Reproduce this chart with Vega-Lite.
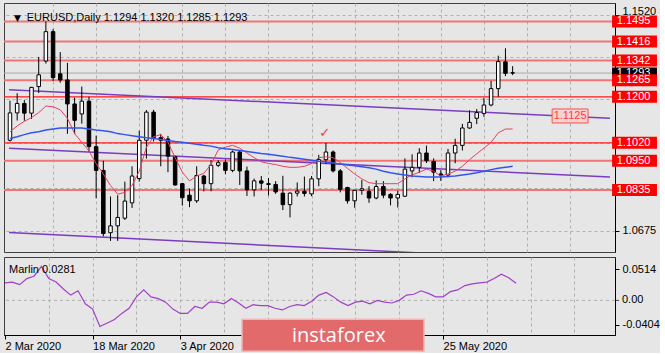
{
  "$schema": "https://vega.github.io/schema/vega-lite/v6.json",
  "background": "#e6e6e6",
  "padding": {"left": 2, "top": 2, "right": 0, "bottom": 0},
  "config": {
    "font": "Liberation Sans",
    "view": {"stroke": "#404040", "strokeWidth": 1},
    "axis": {"labelFont": "Liberation Sans", "labelFontSize": 11, "labelColor": "#000", "title": null, "labelOverlap": false}
  },
  "datasets": {
    "bars": [
      {"date":"2020-03-02","i":0,"o":1.1030,"h":1.1185,"l":1.1025,"c":1.1137,"ma_fast":1.1063,"ma_slow":1.1037,"marlin":0.0286},
      {"date":"2020-03-03","i":1,"o":1.1137,"h":1.1214,"l":1.1107,"c":1.1174,"ma_fast":1.1086,"ma_slow":1.1044,"marlin":0.0300},
      {"date":"2020-03-04","i":2,"o":1.1174,"h":1.1187,"l":1.1106,"c":1.1136,"ma_fast":1.1104,"ma_slow":1.1052,"marlin":0.0257},
      {"date":"2020-03-05","i":3,"o":1.1136,"h":1.1239,"l":1.1114,"c":1.1237,"ma_fast":1.1119,"ma_slow":1.1059,"marlin":0.0357},
      {"date":"2020-03-06","i":4,"o":1.1240,"h":1.1356,"l":1.1215,"c":1.1286,"ma_fast":1.1138,"ma_slow":1.1063,"marlin":0.0400},
      {"date":"2020-03-09","i":5,"o":1.1340,"h":1.1495,"l":1.1330,"c":1.1455,"ma_fast":1.1164,"ma_slow":1.1070,"marlin":0.0557},
      {"date":"2020-03-10","i":6,"o":1.1455,"h":1.1465,"l":1.1262,"c":1.1275,"ma_fast":1.1161,"ma_slow":1.1074,"marlin":0.0357},
      {"date":"2020-03-11","i":7,"o":1.1290,"h":1.1375,"l":1.1255,"c":1.1266,"ma_fast":1.1149,"ma_slow":1.1078,"marlin":0.0300},
      {"date":"2020-03-12","i":8,"o":1.1266,"h":1.1333,"l":1.1055,"c":1.1172,"ma_fast":1.1116,"ma_slow":1.1078,"marlin":0.0186},
      {"date":"2020-03-13","i":9,"o":1.1172,"h":1.1197,"l":1.1054,"c":1.1108,"ma_fast":1.1056,"ma_slow":1.1078,"marlin":0.0086},
      {"date":"2020-03-16","i":10,"o":1.1133,"h":1.1240,"l":1.1095,"c":1.1183,"ma_fast":1.1022,"ma_slow":1.1078,"marlin":0.0157},
      {"date":"2020-03-17","i":11,"o":1.1183,"h":1.1200,"l":1.0985,"c":1.1005,"ma_fast":1.0988,"ma_slow":1.1074,"marlin":-0.0057},
      {"date":"2020-03-18","i":12,"o":1.1005,"h":1.1048,"l":1.0803,"c":1.0912,"ma_fast":1.0939,"ma_slow":1.1070,"marlin":-0.0143},
      {"date":"2020-03-19","i":13,"o":1.0912,"h":1.0950,"l":1.0654,"c":1.0665,"ma_fast":1.0898,"ma_slow":1.1067,"marlin":-0.0429},
      {"date":"2020-03-20","i":14,"o":1.0668,"h":1.0810,"l":1.0636,"c":1.0695,"ma_fast":1.0853,"ma_slow":1.1063,"marlin":-0.0371},
      {"date":"2020-03-23","i":15,"o":1.0695,"h":1.0815,"l":1.0636,"c":1.0728,"ma_fast":1.0819,"ma_slow":1.1056,"marlin":-0.0314},
      {"date":"2020-03-24","i":16,"o":1.0725,"h":1.0868,"l":1.0718,"c":1.0792,"ma_fast":1.0826,"ma_slow":1.1052,"marlin":-0.0214},
      {"date":"2020-03-25","i":17,"o":1.0785,"h":1.0928,"l":1.0765,"c":1.0890,"ma_fast":1.0853,"ma_slow":1.1048,"marlin":-0.0129},
      {"date":"2020-03-26","i":18,"o":1.0880,"h":1.1067,"l":1.0868,"c":1.1030,"ma_fast":1.0909,"ma_slow":1.1044,"marlin":0.0057},
      {"date":"2020-03-27","i":19,"o":1.1030,"h":1.1148,"l":1.0958,"c":1.1140,"ma_fast":1.1003,"ma_slow":1.1040,"marlin":0.0171},
      {"date":"2020-03-30","i":20,"o":1.1140,"h":1.1149,"l":1.1025,"c":1.1040,"ma_fast":1.1044,"ma_slow":1.1037,"marlin":0.0057},
      {"date":"2020-03-31","i":21,"o":1.1040,"h":1.1055,"l":1.0928,"c":1.1030,"ma_fast":1.1052,"ma_slow":1.1033,"marlin":0.0029},
      {"date":"2020-04-01","i":22,"o":1.1035,"h":1.1047,"l":1.0905,"c":1.0968,"ma_fast":1.1022,"ma_slow":1.1029,"marlin":-0.0029},
      {"date":"2020-04-02","i":23,"o":1.0965,"h":1.0970,"l":1.0852,"c":1.0855,"ma_fast":1.0962,"ma_slow":1.1025,"marlin":-0.0143},
      {"date":"2020-04-03","i":24,"o":1.0860,"h":1.0863,"l":1.0774,"c":1.0805,"ma_fast":1.0905,"ma_slow":1.1022,"marlin":-0.0214},
      {"date":"2020-04-06","i":25,"o":1.0815,"h":1.0841,"l":1.0768,"c":1.0793,"ma_fast":1.0871,"ma_slow":1.1018,"marlin":-0.0214},
      {"date":"2020-04-07","i":26,"o":1.0793,"h":1.0928,"l":1.0785,"c":1.0892,"ma_fast":1.0890,"ma_slow":1.1014,"marlin":-0.0100},
      {"date":"2020-04-08","i":27,"o":1.0890,"h":1.0895,"l":1.0830,"c":1.0860,"ma_fast":1.0901,"ma_slow":1.1010,"marlin":-0.0129},
      {"date":"2020-04-09","i":28,"o":1.0860,"h":1.0952,"l":1.0830,"c":1.0932,"ma_fast":1.0935,"ma_slow":1.1007,"marlin":-0.0029},
      {"date":"2020-04-10","i":29,"o":1.0932,"h":1.0952,"l":1.0925,"c":1.0942,"ma_fast":1.0992,"ma_slow":1.1001,"marlin":-0.0029},
      {"date":"2020-04-13","i":30,"o":1.0943,"h":1.0955,"l":1.0897,"c":1.0912,"ma_fast":1.1003,"ma_slow":1.0997,"marlin":-0.0057},
      {"date":"2020-04-14","i":31,"o":1.0912,"h":1.0990,"l":1.0905,"c":1.0984,"ma_fast":1.1010,"ma_slow":1.0994,"marlin":0.0029},
      {"date":"2020-04-15","i":32,"o":1.0984,"h":1.0990,"l":1.0855,"c":1.0910,"ma_fast":1.0999,"ma_slow":1.0990,"marlin":-0.0043},
      {"date":"2020-04-16","i":33,"o":1.0910,"h":1.0927,"l":1.0812,"c":1.0836,"ma_fast":1.0980,"ma_slow":1.0986,"marlin":-0.0129},
      {"date":"2020-04-17","i":34,"o":1.0836,"h":1.0880,"l":1.0810,"c":1.0871,"ma_fast":1.0962,"ma_slow":1.0982,"marlin":-0.0071},
      {"date":"2020-04-20","i":35,"o":1.0871,"h":1.0890,"l":1.0835,"c":1.0862,"ma_fast":1.0946,"ma_slow":1.0978,"marlin":-0.0086},
      {"date":"2020-04-21","i":36,"o":1.0860,"h":1.0882,"l":1.0814,"c":1.0857,"ma_fast":1.0939,"ma_slow":1.0975,"marlin":-0.0086},
      {"date":"2020-04-22","i":37,"o":1.0857,"h":1.0870,"l":1.0820,"c":1.0828,"ma_fast":1.0935,"ma_slow":1.0971,"marlin":-0.0129},
      {"date":"2020-04-23","i":38,"o":1.0823,"h":1.0891,"l":1.0757,"c":1.0778,"ma_fast":1.0928,"ma_slow":1.0967,"marlin":-0.0157},
      {"date":"2020-04-24","i":39,"o":1.0778,"h":1.0826,"l":1.0728,"c":1.0823,"ma_fast":1.0924,"ma_slow":1.0963,"marlin":-0.0100},
      {"date":"2020-04-27","i":40,"o":1.0823,"h":1.0865,"l":1.0810,"c":1.0831,"ma_fast":1.0924,"ma_slow":1.0960,"marlin":-0.0071},
      {"date":"2020-04-28","i":41,"o":1.0830,"h":1.0888,"l":1.0810,"c":1.0822,"ma_fast":1.0928,"ma_slow":1.0956,"marlin":-0.0086},
      {"date":"2020-04-29","i":42,"o":1.0820,"h":1.0890,"l":1.0811,"c":1.0879,"ma_fast":1.0939,"ma_slow":1.0952,"marlin":-0.0014},
      {"date":"2020-04-30","i":43,"o":1.0879,"h":1.0973,"l":1.0850,"c":1.0954,"ma_fast":1.0962,"ma_slow":1.0948,"marlin":0.0086},
      {"date":"2020-05-01","i":44,"o":1.0954,"h":1.1019,"l":1.0937,"c":1.0984,"ma_fast":1.0965,"ma_slow":1.0945,"marlin":0.0129},
      {"date":"2020-05-04","i":45,"o":1.0984,"h":1.0990,"l":1.0904,"c":1.0910,"ma_fast":1.0962,"ma_slow":1.0941,"marlin":0.0057},
      {"date":"2020-05-05","i":46,"o":1.0910,"h":1.0917,"l":1.0826,"c":1.0838,"ma_fast":1.0943,"ma_slow":1.0937,"marlin":-0.0029},
      {"date":"2020-05-06","i":47,"o":1.0845,"h":1.0848,"l":1.0782,"c":1.0793,"ma_fast":1.0920,"ma_slow":1.0933,"marlin":-0.0086},
      {"date":"2020-05-07","i":48,"o":1.0793,"h":1.0835,"l":1.0766,"c":1.0834,"ma_fast":1.0898,"ma_slow":1.0930,"marlin":-0.0029},
      {"date":"2020-05-08","i":49,"o":1.0834,"h":1.0875,"l":1.0817,"c":1.0840,"ma_fast":1.0879,"ma_slow":1.0926,"marlin":-0.0014},
      {"date":"2020-05-11","i":50,"o":1.0830,"h":1.0850,"l":1.0785,"c":1.0804,"ma_fast":1.0864,"ma_slow":1.0922,"marlin":-0.0057},
      {"date":"2020-05-12","i":51,"o":1.0804,"h":1.0873,"l":1.0799,"c":1.0849,"ma_fast":1.0860,"ma_slow":1.0917,"marlin":0.0000},
      {"date":"2020-05-13","i":52,"o":1.0849,"h":1.0870,"l":1.0803,"c":1.0815,"ma_fast":1.0860,"ma_slow":1.0909,"marlin":-0.0029},
      {"date":"2020-05-14","i":53,"o":1.0818,"h":1.0823,"l":1.0775,"c":1.0804,"ma_fast":1.0860,"ma_slow":1.0903,"marlin":-0.0043},
      {"date":"2020-05-15","i":54,"o":1.0804,"h":1.0832,"l":1.0767,"c":1.0818,"ma_fast":1.0860,"ma_slow":1.0898,"marlin":0.0000},
      {"date":"2020-05-18","i":55,"o":1.0811,"h":1.0959,"l":1.0808,"c":1.0917,"ma_fast":1.0879,"ma_slow":1.0894,"marlin":0.0086},
      {"date":"2020-05-19","i":56,"o":1.0910,"h":1.0975,"l":1.0885,"c":1.0924,"ma_fast":1.0894,"ma_slow":1.0890,"marlin":0.0100},
      {"date":"2020-05-20","i":57,"o":1.0924,"h":1.0999,"l":1.0903,"c":1.0980,"ma_fast":1.0905,"ma_slow":1.0888,"marlin":0.0157},
      {"date":"2020-05-21","i":58,"o":1.0980,"h":1.1009,"l":1.0941,"c":1.0950,"ma_fast":1.0917,"ma_slow":1.0886,"marlin":0.0114},
      {"date":"2020-05-22","i":59,"o":1.0947,"h":1.0959,"l":1.0870,"c":1.0905,"ma_fast":1.0909,"ma_slow":1.0886,"marlin":0.0057},
      {"date":"2020-05-25","i":60,"o":1.0898,"h":1.0913,"l":1.0871,"c":1.0893,"ma_fast":1.0890,"ma_slow":1.0886,"marlin":0.0057},
      {"date":"2020-05-26","i":61,"o":1.0894,"h":1.0996,"l":1.0885,"c":1.0980,"ma_fast":1.0898,"ma_slow":1.0888,"marlin":0.0143},
      {"date":"2020-05-27","i":62,"o":1.0980,"h":1.1036,"l":1.0940,"c":1.1010,"ma_fast":1.0909,"ma_slow":1.0890,"marlin":0.0171},
      {"date":"2020-05-28","i":63,"o":1.1010,"h":1.1094,"l":1.0990,"c":1.1078,"ma_fast":1.0928,"ma_slow":1.0894,"marlin":0.0243},
      {"date":"2020-05-29","i":64,"o":1.1078,"h":1.1147,"l":1.1075,"c":1.1100,"ma_fast":1.0954,"ma_slow":1.0898,"marlin":0.0271},
      {"date":"2020-06-01","i":65,"o":1.1116,"h":1.1152,"l":1.1093,"c":1.1138,"ma_fast":1.0977,"ma_slow":1.0903,"marlin":0.0286},
      {"date":"2020-06-02","i":66,"o":1.1135,"h":1.1196,"l":1.1122,"c":1.1168,"ma_fast":1.0999,"ma_slow":1.0909,"marlin":0.0300},
      {"date":"2020-06-03","i":67,"o":1.1168,"h":1.1262,"l":1.1163,"c":1.1232,"ma_fast":1.1022,"ma_slow":1.0915,"marlin":0.0357},
      {"date":"2020-06-04","i":68,"o":1.1232,"h":1.1361,"l":1.1200,"c":1.1338,"ma_fast":1.1059,"ma_slow":1.0920,"marlin":0.0429},
      {"date":"2020-06-05","i":69,"o":1.1337,"h":1.1390,"l":1.1281,"c":1.1292,"ma_fast":1.1074,"ma_slow":1.0924,"marlin":0.0371},
      {"date":"2020-06-08","i":70,"o":1.1294,"h":1.1320,"l":1.1285,"c":1.1293,"ma_fast":1.1074,"ma_slow":1.0928,"marlin":0.0281}
    ],
    "levels": [
      {"level":1.1495},{"level":1.1416},{"level":1.1342},{"level":1.1265},
      {"level":1.1200},{"level":1.1020},{"level":1.0950},{"level":1.0835}
    ],
    "trend": [
      {"line":"upper","i":-0.137,"p":1.1228},{"line":"upper","i":83.56,"p":1.1116},
      {"line":"middle","i":-0.137,"p":1.0999},{"line":"middle","i":83.56,"p":1.0886},
      {"line":"lower","i":-0.137,"p":1.0669},{"line":"lower","i":83.56,"p":1.0552}
    ],
    "marlin_ticks": [{"v": -0.0404, "t": "-0.0404"}, {"v": 0, "t": "0.00"}, {"v": 0.0514, "t": "0.0514"}]
  },
  "spacing": 3,
  "resolve": {"scale": {"x": "independent", "y": "independent"}},
  "vconcat": [
    {
      "width": 611,
      "height": 249,
      "layer": [
        {
          "data": {"name": "bars"},
          "mark": {"type": "rule", "color": "#000", "strokeWidth": 1},
          "encoding": {
            "x": {"field": "i", "type": "quantitative",
              "scale": {"domain": [-0.137, 83.56], "nice": false, "zero": false},
              "axis": {"values": [6,12,18,24,30,36,42,48,54,60,66,72,78], "labels": false, "ticks": false, "domain": false, "grid": true, "gridDash": [3,3], "gridColor": "#b0b0b0", "title": null, "minExtent": 0, "maxExtent": 0}},
            "y": {"field": "l", "type": "quantitative",
              "scale": {"domain": [1.06122, 1.15476], "nice": false, "zero": false},
              "axis": {"orient": "right", "values": [1.0675, 1.0845, 1.102, 1.119, 1.1355, 1.152],
                "labelExpr": "datum.value > 1.15 ? '1.1520' : datum.value < 1.07 ? '1.0675' : ''",
                "labelOffset": {"condition": {"test": "datum.value > 1.15", "value": -4}, "value": 0},
                "grid": true, "gridDash": [3,3], "gridColor": "#b0b0b0", "tickSize": 4, "tickColor": "#000", "domainColor": "#000", "labelPadding": 3, "title": null}},
            "y2": {"field": "h"},
            "opacity": {"value": 0}
          }
        },
        {
          "data": {"name": "levels"},
          "mark": {"type": "rule"},
          "encoding": {
            "y": {"field": "level", "type": "quantitative"},
            "color": {"condition": {"test": "datum.level == 1.12 || datum.level == 1.102", "value": "#ff1a1a"}, "value": "#f27474"},
            "strokeWidth": {"condition": {"test": "datum.level == 1.12 || datum.level == 1.102", "value": 1.2}, "value": 2}
          }
        },
        {
          "data": {"name": "bars"},
          "transform": [{"filter": "datum.i == 70"}],
          "mark": {"type": "rule", "color": "#a8a8a8", "strokeWidth": 1},
          "encoding": {"y": {"field": "c", "type": "quantitative"}}
        },
        {
          "data": {"name": "trend"},
          "mark": {"type": "line", "clip": true, "strokeWidth": 1.5, "color": "#7a3cc0"},
          "encoding": {
            "x": {"field": "i", "type": "quantitative"},
            "y": {"field": "p", "type": "quantitative"},
            "detail": {"field": "line"}
          }
        },
        {
          "data": {"name": "bars"},
          "mark": {"type": "rule", "color": "#000", "strokeWidth": 1},
          "encoding": {
            "x": {"field": "i", "type": "quantitative"},
            "y": {"field": "l", "type": "quantitative"},
            "y2": {"field": "h"}
          }
        },
        {
          "data": {"name": "bars"},
          "mark": {"type": "bar", "size": 3.5, "stroke": "#000", "strokeWidth": 1},
          "encoding": {
            "x": {"field": "i", "type": "quantitative"},
            "y": {"field": "o", "type": "quantitative"},
            "y2": {"field": "c"},
            "fill": {"condition": {"test": "datum.c >= datum.o", "value": "#ffffff"}, "value": "#000000"}
          }
        },
        {
          "data": {"name": "bars"},
          "mark": {"type": "line", "color": "#e8405e", "strokeWidth": 1},
          "encoding": {
            "x": {"field": "i", "type": "quantitative"},
            "y": {"field": "ma_fast", "type": "quantitative"}
          }
        },
        {
          "data": {"name": "bars"},
          "mark": {"type": "line", "color": "#3355ee", "strokeWidth": 1.5},
          "encoding": {
            "x": {"field": "i", "type": "quantitative"},
            "y": {"field": "ma_slow", "type": "quantitative"}
          }
        },
        {
          "data": {"values": [{}]},
          "mark": {"type": "text", "font": "DejaVu Sans", "fontSize": 13, "color": "#f03c3c", "align": "center", "baseline": "middle"},
          "encoding": {
            "x": {"datum": 43.84, "type": "quantitative"},
            "y": {"datum": 1.1059, "type": "quantitative"},
            "text": {"value": "✓"}
          }
        },
        {
          "data": {"values": [{}]},
          "mark": {"type": "bar", "orient": "horizontal", "size": 14, "fill": "#f7d2d2", "stroke": "#ff4d4d", "strokeWidth": 1},
          "encoding": {
            "x": {"datum": 75.5, "type": "quantitative"},
            "x2": {"datum": 80.5},
            "y": {"datum": 1.1125, "type": "quantitative"}
          }
        },
        {
          "data": {"values": [{}]},
          "mark": {"type": "text", "fontSize": 11, "color": "#ff3b3b", "align": "center", "baseline": "middle"},
          "encoding": {
            "x": {"datum": 78.0, "type": "quantitative"},
            "y": {"datum": 1.1125, "type": "quantitative"},
            "text": {"value": "1.1125"}
          }
        },
        {
          "data": {"name": "bars"},
          "transform": [{"filter": "datum.i == 70"}],
          "mark": {"type": "bar", "orient": "horizontal", "size": 11, "fill": "#000000"},
          "encoding": {
            "x": {"datum": 83.85, "type": "quantitative"},
            "x2": {"datum": 90.1},
            "y": {"field": "c", "type": "quantitative"}
          }
        },
        {
          "data": {"name": "bars"},
          "transform": [{"filter": "datum.i == 70"}],
          "mark": {"type": "text", "fontSize": 11, "color": "#ffffff", "align": "left", "baseline": "middle"},
          "encoding": {
            "x": {"datum": 84.5, "type": "quantitative"},
            "y": {"field": "c", "type": "quantitative"},
            "text": {"field": "c", "format": ".4f"}
          }
        },
        {
          "data": {"name": "levels"},
          "mark": {"type": "bar", "orient": "horizontal", "size": 12, "fill": "#ff0000"},
          "encoding": {
            "x": {"datum": 83.85, "type": "quantitative"},
            "x2": {"datum": 90.1},
            "y": {"field": "level", "type": "quantitative"}
          }
        },
        {
          "data": {"name": "levels"},
          "mark": {"type": "text", "fontSize": 11, "color": "#ffffff", "align": "left", "baseline": "middle"},
          "encoding": {
            "x": {"datum": 84.5, "type": "quantitative"},
            "y": {"field": "level", "type": "quantitative"},
            "text": {"field": "level", "format": ".4f"}
          }
        },
        {
          "data": {"values": [{}]},
          "mark": {"type": "text", "font": "DejaVu Sans", "fontSize": 9, "color": "#000", "align": "left", "baseline": "middle"},
          "encoding": {
            "x": {"datum": 0.55, "type": "quantitative"},
            "y": {"datum": 1.1510, "type": "quantitative"},
            "text": {"value": "▼"}
          }
        },
        {
          "data": {"values": [{}]},
          "mark": {"type": "text", "fontSize": 11, "color": "#000", "align": "left", "baseline": "middle"},
          "encoding": {
            "x": {"datum": 2.33, "type": "quantitative"},
            "y": {"datum": 1.1510, "type": "quantitative"},
            "text": {"value": "EURUSD,Daily  1.1294 1.1320 1.1285 1.1293"}
          }
        }
      ]
    },
    {
      "width": 611,
      "height": 78,
      "layer": [
        {
          "data": {"name": "bars"},
          "mark": {"type": "line", "color": "#a040c8", "strokeWidth": 1.2, "opacity": 0},
          "encoding": {
            "x": {"field": "i", "type": "quantitative",
              "scale": {"domain": [-0.137, 83.56], "nice": false, "zero": false},
              "axis": {"values": [0,6,12,18,24,30,36,42,48,54,60,66,72,78],
                "labelExpr": "datum.value == 0 ? '2 Mar 2020' : datum.value == 12 ? '18 Mar 2020' : datum.value == 24 ? '3 Apr 2020' : datum.value == 60 ? '25 May 2020' : ''",
                "labelAlign": "left", "labelBaseline": "top", "labelPadding": 1, "labelFlush": false, "labelBound": false, "labelOverlap": false,
                "tickSize": 4, "tickColor": "#000",
                "tickOpacity": {"condition": {"test": "datum.value % 12 == 0 && datum.value <= 60", "value": 1}, "value": 0},
                "grid": true, "gridDash": [3,3], "gridColor": "#b0b0b0",
                "gridOpacity": {"condition": {"test": "datum.value == 0", "value": 0}, "value": 1},
                "domainColor": "#000", "title": null}},
            "y": {"field": "marlin", "type": "quantitative",
              "scale": {"domain": [-0.0486, 0.0629], "nice": false, "zero": false},
              "axis": {"orient": "right", "values": [-0.0404, 0.0514],
                "labelExpr": "datum.value < 0 ? '-0.0404' : '0.0514'",
                "grid": false, "labelOverlap": false,
                "tickSize": 4, "tickColor": "#000", "domainColor": "#000", "labelPadding": 3, "title": null}}
          }
        },
        {
          "data": {"name": "marlin_ticks"},
          "transform": [{"filter": "datum.t == '0.00'"}],
          "mark": {"type": "rule", "color": "#b0b0b0", "strokeDash": [3, 3], "strokeWidth": 1},
          "encoding": {
            "y": {"field": "v", "type": "quantitative"}
          }
        },
        {
          "data": {"name": "marlin_ticks"},
          "transform": [{"filter": "datum.t == '0.00'"}],
          "mark": {"type": "text", "fontSize": 11, "color": "#000", "align": "left", "baseline": "middle", "dx": 7},
          "encoding": {
            "x": {"datum": 83.56, "type": "quantitative"},
            "y": {"field": "v", "type": "quantitative"},
            "text": {"field": "t"}
          }
        },
        {
          "data": {"name": "marlin_ticks"},
          "transform": [{"filter": "datum.t == '0.00'"}],
          "mark": {"type": "tick", "orient": "horizontal", "color": "#000", "size": 4, "thickness": 1, "xOffset": 2},
          "encoding": {
            "x": {"datum": 83.56, "type": "quantitative"},
            "y": {"field": "v", "type": "quantitative"}
          }
        },
        {
          "data": {"name": "bars"},
          "mark": {"type": "line", "color": "#a040c8", "strokeWidth": 1.2},
          "encoding": {
            "x": {"field": "i", "type": "quantitative"},
            "y": {"field": "marlin", "type": "quantitative"}
          }
        },
        {
          "data": {"values": [{}]},
          "mark": {"type": "text", "fontSize": 11, "color": "#000", "align": "left", "baseline": "middle"},
          "encoding": {
            "x": {"datum": 0.55, "type": "quantitative"},
            "y": {"datum": 0.050, "type": "quantitative"},
            "text": {"value": "Marlin 0.0281"}
          }
        },
        {
          "data": {"values": [{}]},
          "mark": {"type": "bar", "orient": "horizontal", "size": 32, "fill": "#e26a6a", "stroke": "#f3b8b8", "strokeWidth": 1.5},
          "encoding": {
            "x": {"datum": 32.46, "type": "quantitative"},
            "x2": {"datum": 57.4},
            "y": {"datum": -0.0572, "type": "quantitative"}
          }
        },
        {
          "data": {"values": [{}]},
          "mark": {"type": "text", "font": "Open Sans", "fontSize": 20, "color": "#ffffff", "align": "left", "baseline": "middle"},
          "encoding": {
            "x": {"datum": 39.3, "type": "quantitative"},
            "y": {"datum": -0.0585, "type": "quantitative"},
            "text": {"value": "instaforex"}
          }
        }
      ]
    }
  ]
}
